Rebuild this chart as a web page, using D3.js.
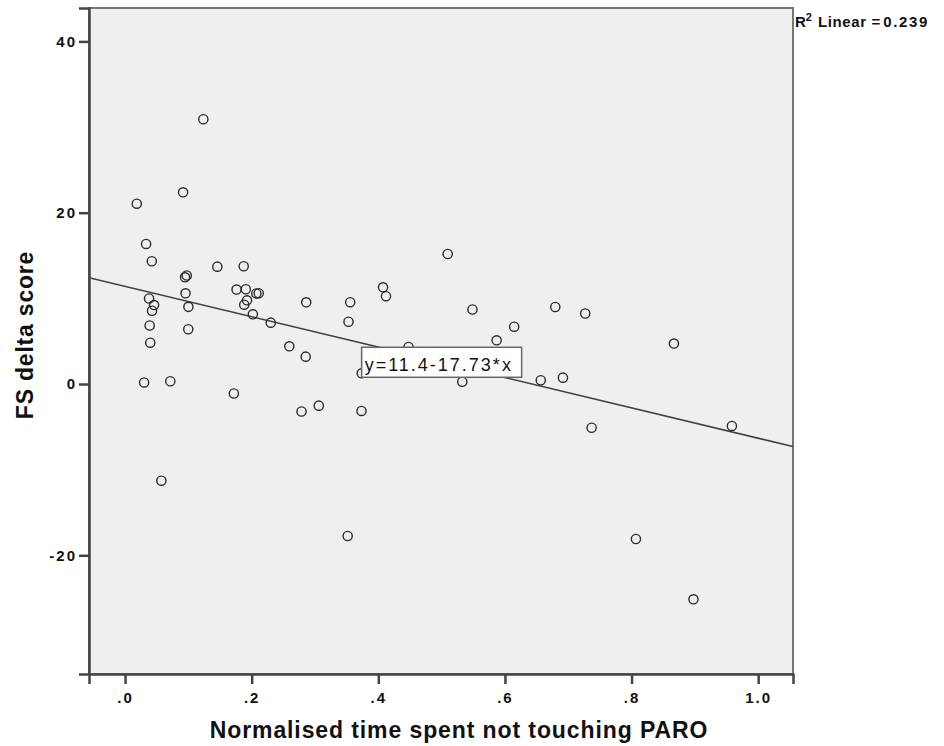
<!DOCTYPE html>
<html>
<head>
<meta charset="utf-8">
<script src="https://cdn.jsdelivr.net/npm/d3@7"></script>
<style>
  html, body { margin: 0; padding: 0; background: #fff; }
  svg { display: block; font-family: "Liberation Sans", Arial, Helvetica, sans-serif; }
</style>
</head>
<body>
<svg id="chart" width="944" height="746"></svg>
<script>
// Normalised time spent not touching PARO (x) vs FS delta score (y)
const timeNotTouching = [
  0.0185, 0.1236, 0.0916, 0.0332, 0.0422, 0.1457, 0.1874, 0.0947, 0.0974, 0.1761,
  0.1907, 0.2073, 0.2111, 0.0379, 0.0458, 0.0426, 0.0955, 0.1000, 0.1926, 0.1882,
  0.2018, 0.2301, 0.0388, 0.0998, 0.0398, 0.2594, 0.0300, 0.0714, 0.1718, 0.0573,
  0.2861, 0.2853, 0.2787, 0.3060, 0.3556, 0.3529, 0.4074, 0.4121, 0.3738, 0.4477,
  0.3734, 0.3516, 0.5096, 0.5487, 0.5869, 0.6146, 0.5326, 0.6566, 0.6916, 0.6795,
  0.7268, 0.7369, 0.8669, 0.9585, 0.8069, 0.8978
];
const fsDelta = [
  21.05, 30.91, 22.38, 16.35, 14.33, 13.70, 13.75, 12.46, 12.67, 11.03,
  11.06, 10.57, 10.60, 9.98, 9.22, 8.55, 10.59, 9.01, 9.77, 9.26,
  8.14, 7.16, 6.83, 6.39, 4.82, 4.40, 0.18, 0.32, -1.11, -11.29,
  9.54, 3.19, -3.21, -2.53, 9.55, 7.27, 11.29, 10.25, 1.25, 4.32,
  -3.15, -17.75, 15.18, 8.70, 5.10, 6.69, 0.26, 0.44, 0.74, 8.99,
  8.23, -5.11, 4.72, -4.90, -18.10, -25.14
];

// Linear fit reported on the chart
const fitIntercept = 11.4;
const fitSlope = -17.73;
const rSquared = "0.239";

const xTicks = [0, 0.2, 0.4, 0.6, 0.8, 1.0];
const xTickLabels = [".0", ".2", ".4", ".6", ".8", "1.0"];
const yTicks = [-20, 0, 20, 40];
const yTickLabels = ["-20", "0", "20", "40"];

const xTitle = "Normalised time spent not touching PARO";
const yTitle = "FS delta score";

const points = timeNotTouching.map((t, i) => ({ x: t, y: fsDelta[i] }));

const svg = d3.select("#chart");
const frame = { left: 89, right: 793, top: 8, bottom: 674 };

const x = d3.scaleLinear().domain([-0.057, 1.055]).range([frame.left, frame.right]);
const y = d3.scaleLinear().domain([-33.86, 43.9]).range([frame.bottom, frame.top]);

// plot background
svg.append("rect")
  .attr("x", frame.left).attr("y", frame.top)
  .attr("width", frame.right - frame.left)
  .attr("height", frame.bottom - frame.top)
  .attr("fill", "#efefef")
  .attr("stroke", "#777")
  .attr("stroke-width", 2);

svg.append("clipPath").attr("id", "plotclip")
  .append("rect")
  .attr("x", frame.left).attr("y", frame.top)
  .attr("width", frame.right - frame.left)
  .attr("height", frame.bottom - frame.top);

const plot = svg.append("g").attr("clip-path", "url(#plotclip)");

// regression line across the full x range
const xd = x.domain();
plot.append("line")
  .attr("x1", x(xd[0])).attr("y1", y(fitIntercept + fitSlope * xd[0]))
  .attr("x2", x(xd[1])).attr("y2", y(fitIntercept + fitSlope * xd[1]))
  .attr("stroke", "#404040")
  .attr("stroke-width", 1.6);

// scatter points as open circles
plot.selectAll("circle.pt")
  .data(points)
  .join("circle")
  .attr("class", "pt")
  .attr("cx", d => x(d.x))
  .attr("cy", d => y(d.y))
  .attr("r", 4.6)
  .attr("fill", "none")
  .attr("stroke", "#2a2a2a")
  .attr("stroke-width", 1.4);

// equation label centred on the fit line at x = 0.5
const eqX = x(0.5), eqY = y(fitIntercept + fitSlope * 0.5);
const eq = svg.append("g");
eq.append("rect")
  .attr("x", eqX - 80).attr("y", eqY - 15)
  .attr("width", 160).attr("height", 30)
  .attr("fill", "#fff")
  .attr("stroke", "#666")
  .attr("stroke-width", 1.5);
eq.append("text")
  .attr("x", eqX - 77).attr("y", eqY + 9)
  .attr("font-size", 18)
  .attr("letter-spacing", 2)
  .attr("fill", "#111")
  .text(`y=${fitIntercept}${fitSlope}*x`);

// axes
const xAxis = svg.append("g")
  .attr("transform", `translate(0,${frame.bottom})`)
  .call(d3.axisBottom(x).tickValues(xTicks).tickSize(10).tickPadding(5)
    .tickFormat((d, i) => xTickLabels[i]));
const yAxis = svg.append("g")
  .attr("transform", `translate(${frame.left},0)`)
  .call(d3.axisLeft(y).tickValues(yTicks).tickSize(10).tickPadding(2)
    .tickFormat((d, i) => yTickLabels[i]));

[xAxis, yAxis].forEach(g => {
  g.select(".domain").attr("stroke", "#444").attr("stroke-width", 2.5);
  g.selectAll(".tick line").attr("stroke", "#444").attr("stroke-width", 2.5);
  g.selectAll(".tick text")
    .attr("fill", "#111")
    .attr("font-size", 15)
    .attr("font-weight", "bold")
    .attr("letter-spacing", 2)
    .style("font-family", "'Liberation Sans', Arial, sans-serif");
});
xAxis.selectAll(".tick text").attr("dy", "0.9em");

// axis titles
svg.append("text")
  .attr("x", 459).attr("y", 738)
  .attr("text-anchor", "middle")
  .attr("font-size", 23)
  .attr("font-weight", "bold")
  .attr("letter-spacing", 0.9)
  .attr("fill", "#111")
  .text(xTitle);

svg.append("text")
  .attr("transform", "translate(33,335) rotate(-90)")
  .attr("text-anchor", "middle")
  .attr("font-size", 23)
  .attr("font-weight", "bold")
  .attr("letter-spacing", 0.8)
  .attr("fill", "#111")
  .text(yTitle);

// R squared annotation
const r2 = svg.append("text")
  .attr("x", 795).attr("y", 27)
  .attr("font-size", 15)
  .attr("font-weight", "bold")
  .attr("fill", "#111");
r2.append("tspan").text("R");
r2.append("tspan").attr("font-size", 11).attr("dy", -6).text("2");
r2.append("tspan").attr("dy", 6).attr("dx", 6).attr("letter-spacing", 0.6).text("Linear");
r2.append("tspan").attr("dx", 5).text("=");
r2.append("tspan").attr("dx", 3).attr("letter-spacing", 1.6).text(rSquared);
</script>
</body>
</html>
